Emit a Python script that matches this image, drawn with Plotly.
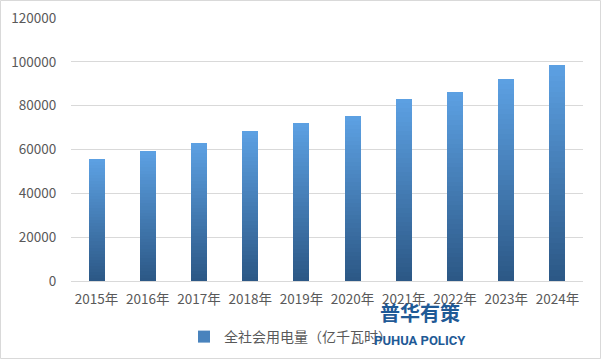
import plotly.graph_objects as go

years = ["2015年", "2016年", "2017年", "2018年", "2019年", "2020年", "2021年", "2022年", "2023年", "2024年"]
consumption = [55500, 59198, 63077, 68449, 72255, 75110, 83128, 86372, 92241, 98521]
series_name = "全社会用电量（亿千瓦时）"
y_ticks = [0, 20000, 40000, 60000, 80000, 100000, 120000]

FONT = "Noto Sans CJK SC, Microsoft YaHei, sans-serif"
N = 40
bottom = (0x2C, 0x58, 0x86)
top = (0x5C, 0xA0, 0xE2)

def mix(t):
    return "rgb(%d,%d,%d)" % tuple(round(b + (tp - b) * t) for b, tp in zip(bottom, top))

fig = go.Figure()
for i in range(N):
    fig.add_trace(go.Bar(
        x=years,
        y=[v / N for v in consumption],
        marker=dict(color=mix(i / (N - 1)), line=dict(width=0)),
        name=series_name,
        legendgroup="s",
        showlegend=False,
        hoverinfo="skip",
    ))
# legend entry
fig.add_trace(go.Bar(
    x=[years[0]], y=[None],
    marker=dict(color=mix(0.6), line=dict(width=0)),
    name=series_name, legendgroup="s", showlegend=True,
))

PW, PH = 512, 263
fig.update_layout(
    width=601, height=361,
    margin=dict(l=71, r=18, t=18, b=80, autoexpand=False),
    barmode="stack",
    bargap=0.69,
    paper_bgcolor="white",
    plot_bgcolor="white",
    font=dict(family=FONT, color="#595959", size=13.5),
    showlegend=True,
    legend=dict(
        orientation="h", x=(184 - 71) / PW, xanchor="left", y=-(321 - 281) / PH, yanchor="top",
        font=dict(size=14, color="#595959"), itemwidth=30,
        bgcolor="rgba(0,0,0,0)",
    ),
    xaxis=dict(
        automargin=False,
        showgrid=False, showline=True, linecolor="#D9D9D9", linewidth=1,
        ticks="outside", ticklen=6, tickcolor="rgba(0,0,0,0)",
        tickfont=dict(size=13.5, color="#595959"), fixedrange=True,
    ),
    yaxis=dict(
        automargin=False,
        range=[0, 120000], tickvals=y_ticks, ticktext=[str(v) for v in y_ticks],
        showgrid=True, gridcolor="#D9D9D9", gridwidth=1, zeroline=False,
        ticks="outside", ticklen=11, tickcolor="rgba(0,0,0,0)",
        tickfont=dict(size=13.5, color="#595959"), fixedrange=True,
    ),
    shapes=[dict(
        type="rect", xref="paper", yref="paper",
        x0=-70.5 / PW, x1=(PW + 17.5) / PW,
        y0=-(80 - 2.5) / PH, y1=(PH + 17.5) / PH,
        line=dict(color="#D9D9D9", width=1), fillcolor="rgba(0,0,0,0)", layer="below",
    )],
    annotations=[
        dict(text="<b>普华有策</b>", xref="paper", yref="paper",
             x=(420 - 71) / PW, y=-(312 - 281) / PH, xanchor="center", yanchor="middle",
             showarrow=False, font=dict(size=20, color="#1F5A96", family=FONT)),
        dict(text="<b>PUHUA POLICY</b>", xref="paper", yref="paper",
             x=(420 - 71) / PW, y=-(340 - 281) / PH, xanchor="center", yanchor="middle",
             showarrow=False, font=dict(size=13, color="#1F5A96", family="Roboto, sans-serif")),
    ],
)

fig.write_html("out.html", config={"displayModeBar": False},
               post_script="document.body.style.margin='0';")
